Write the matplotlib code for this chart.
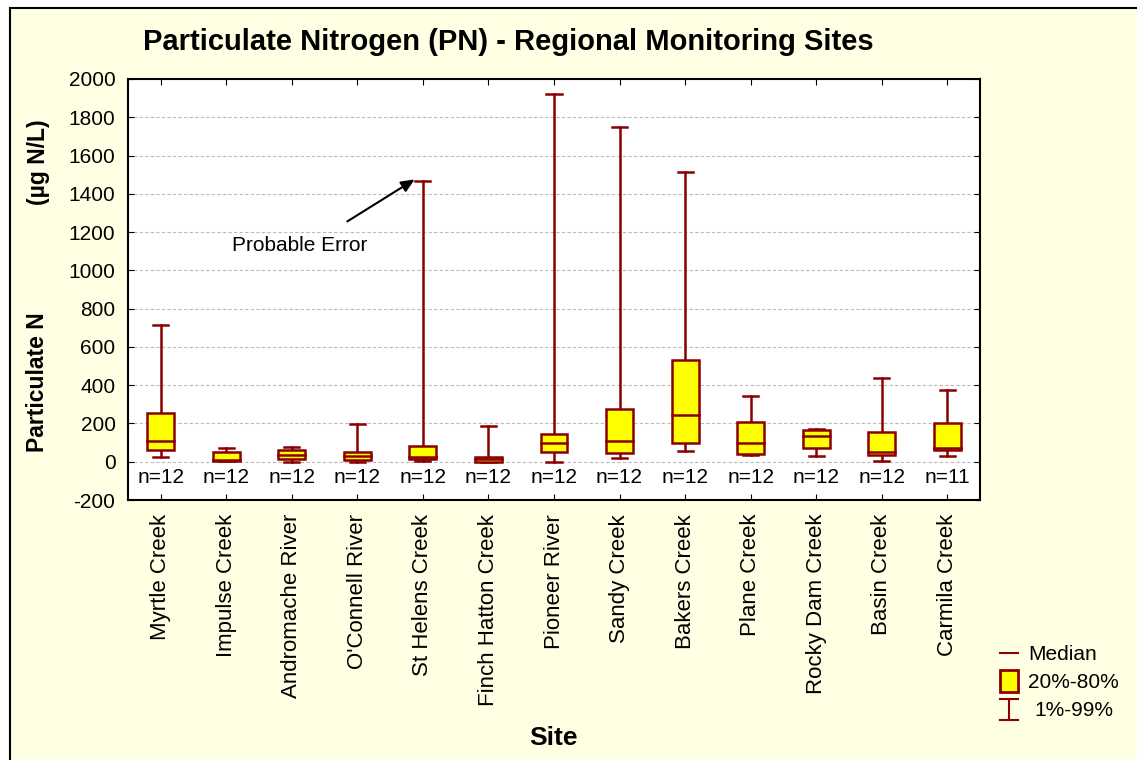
import numpy as np
import matplotlib.pyplot as plt
import matplotlib.patches as patches
from matplotlib.lines import Line2D

plt.rcParams['font.family'] = ['Liberation Sans', 'DejaVu Sans']
plt.rcParams['axes.unicode_minus'] = False

sites = ['Myrtle Creek', 'Impulse Creek', 'Andromache River', "O'Connell River",
         'St Helens Creek', 'Finch Hatton Creek', 'Pioneer River', 'Sandy Creek',
         'Bakers Creek', 'Plane Creek', 'Rocky Dam Creek', 'Basin Creek', 'Carmila Creek']
p01 = [24, 3, 0, 0, 2, 0, 0, 21, 56, 35, 31, 2, 30]
p20 = [63, 5, 14, 10, 14, 0, 50, 45, 96, 40, 73, 33, 61]
med = [106, 10, 35, 31, 25, 12, 99, 106, 242, 97, 137, 52, 71]
p80 = [257, 52, 59, 52, 80, 23, 145, 278, 533, 205, 167, 153, 200]
p99 = [717, 70, 75, 198, 1466, 188, 1923, 1751, 1514, 346, 172, 437, 376]
n_obs = [12, 12, 12, 12, 12, 12, 12, 12, 12, 12, 12, 12, 11]

dred = '#8B0000'
cream = '#FFFFE3'

fig = plt.figure(figsize=(11.37, 7.6), dpi=100, facecolor='white')
fig.patches.append(patches.Rectangle((10/1137, -0.05), 1.1, 1 - 8/760 + 0.05,
                                     transform=fig.transFigure, facecolor=cream,
                                     edgecolor='black', linewidth=1.5, zorder=-10))
ax = fig.add_axes([128/1137, 1 - 500/760, 852/1137, 421/760])
ax.set_facecolor('white')

x = np.arange(len(sites))
bw = 0.41
cw = 0.23
lw = 1.8
for i in x:
    ax.plot([i, i], [p80[i], p99[i]], color=dred, lw=lw, zorder=2)
    ax.plot([i, i], [p01[i], p20[i]], color=dred, lw=lw, zorder=2)
    ax.plot([i - cw/2, i + cw/2], [p99[i]] * 2, color=dred, lw=lw, zorder=2)
    ax.plot([i - cw/2, i + cw/2], [p01[i]] * 2, color=dred, lw=lw, zorder=2)
    ax.add_patch(patches.Rectangle((i - bw/2, p20[i]), bw, p80[i] - p20[i],
                                   facecolor='yellow', edgecolor=dred, lw=lw, zorder=3))
    ax.plot([i - bw/2, i + bw/2], [med[i]] * 2, color=dred, lw=lw, zorder=4)
    ax.text(i, -85, 'n=%d' % n_obs[i], ha='center', va='center', fontsize=15)

ax.set_xlim(-0.5, len(sites) - 0.5)
ax.set_ylim(-200, 2000)
ax.set_yticks(np.arange(-200, 2001, 200))
ax.set_xticks(x)
ax.set_xticklabels(sites, rotation=90, fontsize=16)
ax.tick_params(axis='y', labelsize=15, direction='in', length=4, right=True, pad=9)
ax.tick_params(axis='x', direction='in', length=4, top=True, pad=10)
ax.grid(axis='y', color='#BBBBBB', linestyle=(0, (3, 2)), lw=0.8)
ax.set_axisbelow(True)
for s in ax.spines.values():
    s.set_linewidth(1.5)

ax.annotate('', xy=(3.91, 1483), xytext=(2.81, 1248),
            arrowprops=dict(arrowstyle='-|>,head_length=0.8,head_width=0.35',
                            color='black', lw=1.5))
ax.text(2.12, 1128, 'Probable Error', ha='center', va='center', fontsize=15)

fig.text(508/1137, 1 - 42/760, 'Particulate Nitrogen (PN) - Regional Monitoring Sites',
         ha='center', va='center', fontsize=21, fontweight='bold')
fig.text(553/1137, 1 - 738/760, 'Site', ha='center', va='center',
         fontsize=19, fontweight='bold')
fig.text(38/1137, 1 - 382/760, 'Particulate N', rotation=90, ha='center', va='center',
         fontsize=16.5, fontweight='bold')
fig.text(38/1137, 1 - 162/760, '(µg N/L)', rotation=90, ha='center', va='center',
         fontsize=16.5, fontweight='bold')

# legend drawn by hand
def fx(px):
    return px / 1137

def fy(py):
    return 1 - py / 760

fig.add_artist(Line2D([fx(1000), fx(1018)], [fy(653), fy(653)], color=dred, lw=1.5))
fig.text(fx(1028), fy(654), 'Median', va='center', fontsize=15)
fig.add_artist(patches.Rectangle((fx(1000), fy(692)), fx(18), 22/760,
                                 transform=fig.transFigure, facecolor='yellow',
                                 edgecolor=dred, lw=2))
fig.text(fx(1028), fy(682), '20%-80%', va='center', fontsize=15)
fig.add_artist(Line2D([fx(1009), fx(1009)], [fy(699), fy(720)], color=dred, lw=1.5))
fig.add_artist(Line2D([fx(1000), fx(1018)], [fy(699), fy(699)], color=dred, lw=1.5))
fig.add_artist(Line2D([fx(1000), fx(1018)], [fy(720), fy(720)], color=dred, lw=1.5))
fig.text(fx(1034), fy(710), '1%-99%', va='center', fontsize=15)

fig.savefig('out.png', dpi=100, facecolor=fig.get_facecolor())
